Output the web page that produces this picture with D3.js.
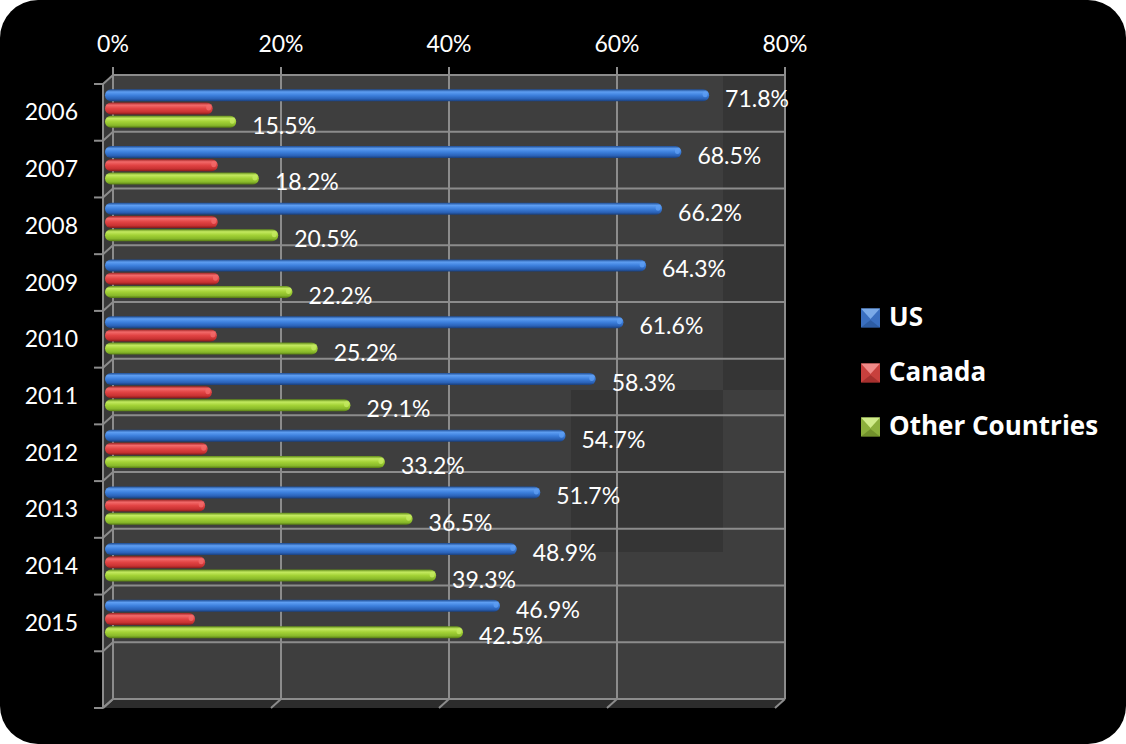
<!DOCTYPE html>
<html><head><meta charset="utf-8">
<script src="https://cdn.jsdelivr.net/npm/d3@7"></script>
<style>html,body{margin:0;padding:0;background:#fff;}svg{display:block;}</style>
</head><body>
<svg id="c" width="1126" height="744"></svg>
<script>
const years = ["2006","2007","2008","2009","2010","2011","2012","2013","2014","2015",""];
const seriesNames = ["US","Canada","Other Countries"];
const usValues = [71.8,68.5,66.2,64.3,61.6,58.3,54.7,51.7,48.9,46.9];
const canadaValues = [12.7,13.3,13.3,13.5,13.2,12.6,12.1,11.8,11.8,10.6];
const otherValues = [15.5,18.2,20.5,22.2,25.2,29.1,33.2,36.5,39.3,42.5];
const xTicks = [0,20,40,60,80];
const labeledSeries = ["US","Other Countries"];

const svg = d3.select("#c");
const font = "Lato, 'Open Sans', sans-serif";

svg.append("rect").attr("x",0).attr("y",0).attr("width",1126).attr("height",744).attr("rx",38).attr("fill","#000");

const back = {x0:113, x1:785, y0:75, y1:699};
const dx = -10, dy = 9;
const x = d3.scaleLinear().domain([0,80]).range([back.x0, back.x1]);
const yBack = d3.scaleBand().domain(years.map((d,i)=>i)).range([back.y0, back.y1]);
const yFront = d3.scaleBand().domain(years.map((d,i)=>i)).range([back.y0+dy, back.y1+dy]);
const barBand = d3.scaleBand().domain(years.map((d,i)=>i)).range([back.y0+7, back.y1+7]);
const inner = d3.scaleBand().domain(seriesNames).range([6.7, 46.3]);
const barH = 12;
const barX0 = 106;
const xb = v => barX0 + (x(v) - x(0));

const defs = svg.append("defs");
const colors = {
  "US": ["#1e4c92","#5e9ef2","#3d80dd","#2a62b8","#1a3f7a"],
  "Canada": ["#9e2222","#f26a6a","#e24444","#c83232","#861a1a"],
  "Other Countries": ["#5f8a18","#c4ea60","#a3d236","#88b82a","#557a14"]
};
seriesNames.forEach((s,i)=>{
  const g = defs.append("linearGradient").attr("id","g"+i).attr("x1",0).attr("y1",0).attr("x2",0).attr("y2",1);
  const c = colors[s];
  [[0,c[0]],[0.22,c[1]],[0.5,c[2]],[0.8,c[3]],[1,c[4]]].forEach(([o,col])=>g.append("stop").attr("offset",o).attr("stop-color",col));
});

svg.append("rect").attr("x",back.x0).attr("y",back.y0).attr("width",back.x1-back.x0).attr("height",back.y1-back.y0).attr("fill","#3e3e3e");
svg.append("rect").attr("x",723).attr("y",back.y0).attr("width",62).attr("height",315).attr("fill","#353535");
svg.append("rect").attr("x",571).attr("y",390).attr("width",152).attr("height",162).attr("fill","#353535");
svg.append("path").attr("d",`M${back.x0+dx},${back.y0+dy}L${back.x0},${back.y0}L${back.x0},${back.y1}L${back.x0+dx},${back.y1+dy}Z`).attr("fill","#383838");
svg.append("path").attr("d",`M${back.x0},${back.y1}L${back.x1},${back.y1}L${back.x1+dx},${back.y1+dy}L${back.x0+dx},${back.y1+dy}Z`).attr("fill","#2c2c2c");

const gridCol = "#8c8c8c";
const grid = svg.append("g").attr("stroke",gridCol).attr("stroke-width",2).attr("fill","none");
xTicks.forEach(t=>{
  grid.append("line").attr("x1",x(t)).attr("x2",x(t)).attr("y1",back.y0-8).attr("y2",back.y1);
  grid.append("line").attr("x1",x(t)).attr("x2",x(t)+dx).attr("y1",back.y1).attr("y2",back.y1+dy);
});
const bounds = d3.range(years.length+1);
bounds.forEach(k=>{
  const yb = k<years.length ? yBack(k) : back.y1;
  const yf = yb + dy;
  grid.append("line").attr("x1",back.x0).attr("x2",back.x1).attr("y1",yb).attr("y2",yb);
  grid.append("line").attr("x1",back.x0).attr("x2",back.x0+dx).attr("y1",yb).attr("y2",yf);
  grid.append("line").attr("x1",back.x0+dx).attr("x2",back.x0+dx-9).attr("y1",yf).attr("y2",yf);
});
grid.append("line").attr("x1",back.x0+dx).attr("x2",back.x0+dx).attr("y1",back.y0+dy).attr("y2",back.y1+dy);

svg.append("g").selectAll("text").data(xTicks).join("text")
  .attr("x",d=>x(d)).attr("y",52).attr("text-anchor","middle")
  .attr("fill","#fff").attr("font-family",font).attr("font-size",23)
  .text(d=>d+"%");

svg.append("g").selectAll("text").data(years.filter(d=>d)).join("text")
  .attr("x",78).attr("y",(d,i)=>yFront(i)+yFront.bandwidth()/2+8).attr("text-anchor","end")
  .attr("fill","#fff").attr("font-family",font).attr("font-size",23)
  .text(d=>d);

const seriesVals = {"US":usValues,"Canada":canadaValues,"Other Countries":otherValues};
seriesNames.forEach((s,si)=>{
  const vals = seriesVals[s];
  const g = svg.append("g");
  vals.forEach((v,i)=>{
    const cy = barBand(i) + inner(s) + inner.bandwidth()/2;
    g.append("rect").attr("x",barX0-1).attr("y",cy-barH/2).attr("width",xb(v)-barX0+1).attr("height",barH)
      .attr("rx",barH/2).attr("fill",`url(#g${si})`);
    g.append("ellipse").attr("cx",xb(v)-4).attr("cy",cy-1).attr("rx",2.5).attr("ry",3)
      .attr("fill",colors[s][1]).attr("opacity",0.8);
    if (labeledSeries.includes(s)) {
      svg.append("text").attr("x",xb(v)+16).attr("y",cy+12)
        .attr("fill","#fff").attr("font-family",font).attr("font-size",23)
        .text(v.toFixed(1)+"%");
    }
  });
});

const legY = [318,373,427];
const legCols = {"US":["#3a6fc0","#7aaae8","#24508f"],"Canada":["#c8403d","#f08a88","#8f2624"],"Other Countries":["#8cb03c","#d0ec8a","#607d22"]};
seriesNames.forEach((s,i)=>{
  const cx = 870.5, cy = legY[i], h = 9.5;
  const c = legCols[s];
  svg.append("rect").attr("x",cx-h).attr("y",cy-h).attr("width",2*h).attr("height",2*h).attr("fill",c[0]);
  svg.append("path").attr("d",`M${cx-h},${cy-h}L${cx+h},${cy-h}L${cx},${cy+1}Z`).attr("fill",c[1]);
  svg.append("path").attr("d",`M${cx-h},${cy+h}L${cx+h},${cy+h}L${cx},${cy+2}Z`).attr("fill",c[2]).attr("opacity",0.6);
  svg.append("text").attr("x",889).attr("y",cy+8).attr("fill","#fff")
    .attr("font-family","'Open Sans', Lato, sans-serif").attr("font-weight","bold").attr("font-size",26).text(s);
});
</script>
</body></html>
